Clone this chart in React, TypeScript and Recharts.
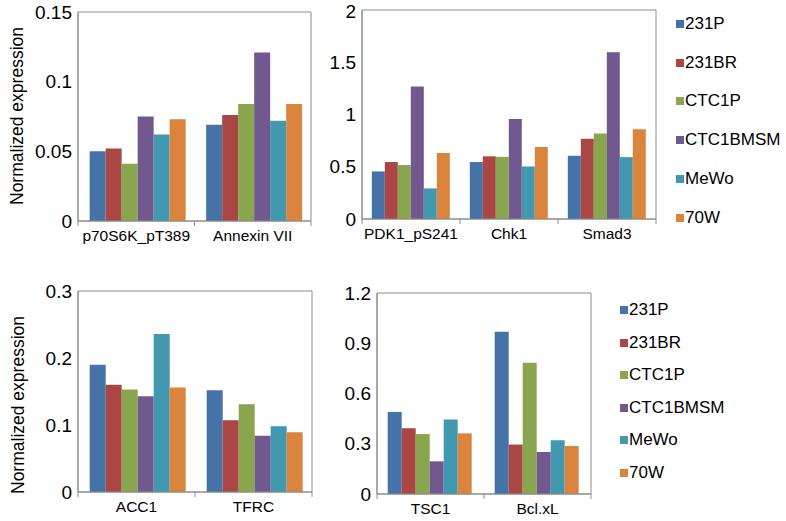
import { BarChart, Bar, XAxis, YAxis, ReferenceArea } from 'recharts';

const SERIES = ['231P', '231BR', 'CTC1P', 'CTC1BMSM', 'MeWo', '70W'];
const COLORS = ['#4572A7', '#AA4643', '#89A54E', '#71588F', '#4198AF', '#DB843D'];
const GRAY = '#8c8c8c';
const FONT = '"Liberation Sans", Arial, sans-serif';

// top-left panel
const catsA = ['p70S6K_pT389', 'Annexin VII'];
const valsA = [
  [0.05, 0.069],
  [0.052, 0.076],
  [0.041, 0.084],
  [0.075, 0.121],
  [0.062, 0.072],
  [0.073, 0.084],
];
const ticksA = [0, 0.05, 0.1, 0.15];

// top-right panel
const catsB = ['PDK1_pS241', 'Chk1', 'Smad3'];
const valsB = [
  [0.455, 0.545, 0.605],
  [0.545, 0.6, 0.767],
  [0.516, 0.595, 0.818],
  [1.267, 0.956, 1.596],
  [0.293, 0.503, 0.592],
  [0.631, 0.69, 0.86],
];
const ticksB = [0, 0.5, 1, 1.5, 2];

// bottom-left panel
const catsC = ['ACC1', 'TFRC'];
const valsC = [
  [0.19, 0.152],
  [0.16, 0.107],
  [0.153, 0.131],
  [0.143, 0.084],
  [0.236, 0.098],
  [0.156, 0.089],
];
const ticksC = [0, 0.1, 0.2, 0.3];

// bottom-right panel
const catsD = ['TSC1', 'Bcl.xL'];
const valsD = [
  [0.49, 0.968],
  [0.392, 0.295],
  [0.358, 0.784],
  [0.195, 0.251],
  [0.445, 0.321],
  [0.362, 0.287],
];
const ticksD = [0, 0.3, 0.6, 0.9, 1.2];

function Panel({ left, top, width, height, marginTop, marginRight, yWidth, cats, vals, ticks }: any) {
  const data = cats.map((c: string, i: number) => {
    const row: any = { name: c };
    SERIES.forEach((s, j) => { row[s] = vals[j][i]; });
    return row;
  });
  const band = (width - yWidth - marginRight) / cats.length;
  const max = ticks[ticks.length - 1];

  // category labels plus Excel-style tick marks between categories
  const catTick = (p: any) => {
    const { x, y, payload } = p;
    const last = payload.index === cats.length - 1;
    return (
      <g>
        <text x={x} y={y} dy="0.71em" textAnchor="middle" fontSize={15.5} fill="#000" fontFamily={FONT}>{payload.value}</text>
        <line x1={x - band / 2} x2={x - band / 2} y1={y - 9} y2={y - 4} stroke={GRAY} />
        {last && <line x1={x + band / 2} x2={x + band / 2} y1={y - 9} y2={y - 4} stroke={GRAY} />}
      </g>
    );
  };

  return (
    <div style={{ position: 'absolute', left, top }}>
      <BarChart width={width} height={height} data={data}
        margin={{ top: marginTop, right: marginRight, left: 0, bottom: 0 }}
        barCategoryGap="10%" barGap={0}>
        <ReferenceArea y1={0} y2={max} fill="none" stroke={GRAY} ifOverflow="visible" />
        <XAxis dataKey="name" height={29} interval={0} axisLine={{ stroke: GRAY }} tickLine={false}
          tickSize={5} tickMargin={4} tick={catTick} />
        <YAxis width={yWidth} domain={[0, max]} ticks={ticks} axisLine={{ stroke: GRAY }} tickLine={false}
          tickSize={4} tickMargin={2} tick={{ fontSize: 19, fill: '#000', fontFamily: FONT }} />
        {SERIES.map((s, i) => (
          <Bar key={s} dataKey={s} fill={COLORS[i]} isAnimationActive={false} />
        ))}
      </BarChart>
    </div>
  );
}

function LegendBox({ left, top, gap }: any) {
  return (
    <div style={{ position: 'absolute', left, top, fontFamily: FONT, fontSize: 17 }}>
      {SERIES.map((s, i) => (
        <div key={s} style={{ position: 'absolute', top: i * gap, left: 0, display: 'flex', alignItems: 'center', whiteSpace: 'nowrap', height: 20, marginTop: -10 }}>
          <span style={{ display: 'inline-block', width: 8, height: 8, background: COLORS[i], marginRight: 1 }} />
          <span>{s}</span>
        </div>
      ))}
    </div>
  );
}

function YLabel({ cx, cy }: any) {
  return (
    <div style={{ position: 'absolute', left: cx, top: cy, transform: 'translate(-50%, -50%) rotate(-90deg)', whiteSpace: 'nowrap', fontFamily: FONT, fontSize: 17.5, lineHeight: 1 }}>
      Normalized expression
    </div>
  );
}

export default function App() {
  return (
    <div style={{ position: 'absolute', left: 0, top: 0, width: 786, height: 521, background: '#fff', overflow: 'hidden' }}>
      <Panel left={0} top={0} width={320} height={250} marginTop={12} marginRight={9} yWidth={78}
        cats={catsA} vals={valsA} ticks={ticksA} />
      <Panel left={300} top={0} width={360} height={248} marginTop={10} marginRight={4} yWidth={62}
        cats={catsB} vals={valsB} ticks={ticksB} />
      <Panel left={0} top={279} width={320} height={242} marginTop={12} marginRight={8} yWidth={78}
        cats={catsC} vals={valsC} ticks={ticksC} />
      <Panel left={320} top={281} width={275} height={242} marginTop={12} marginRight={4} yWidth={57}
        cats={catsD} vals={valsD} ticks={ticksD} />
      <YLabel cx={18} cy={116} />
      <YLabel cx={19} cy={405} />
      <LegendBox left={676} top={24} gap={38.7} />
      <LegendBox left={620} top={310} gap={32.5} />
    </div>
  );
}
